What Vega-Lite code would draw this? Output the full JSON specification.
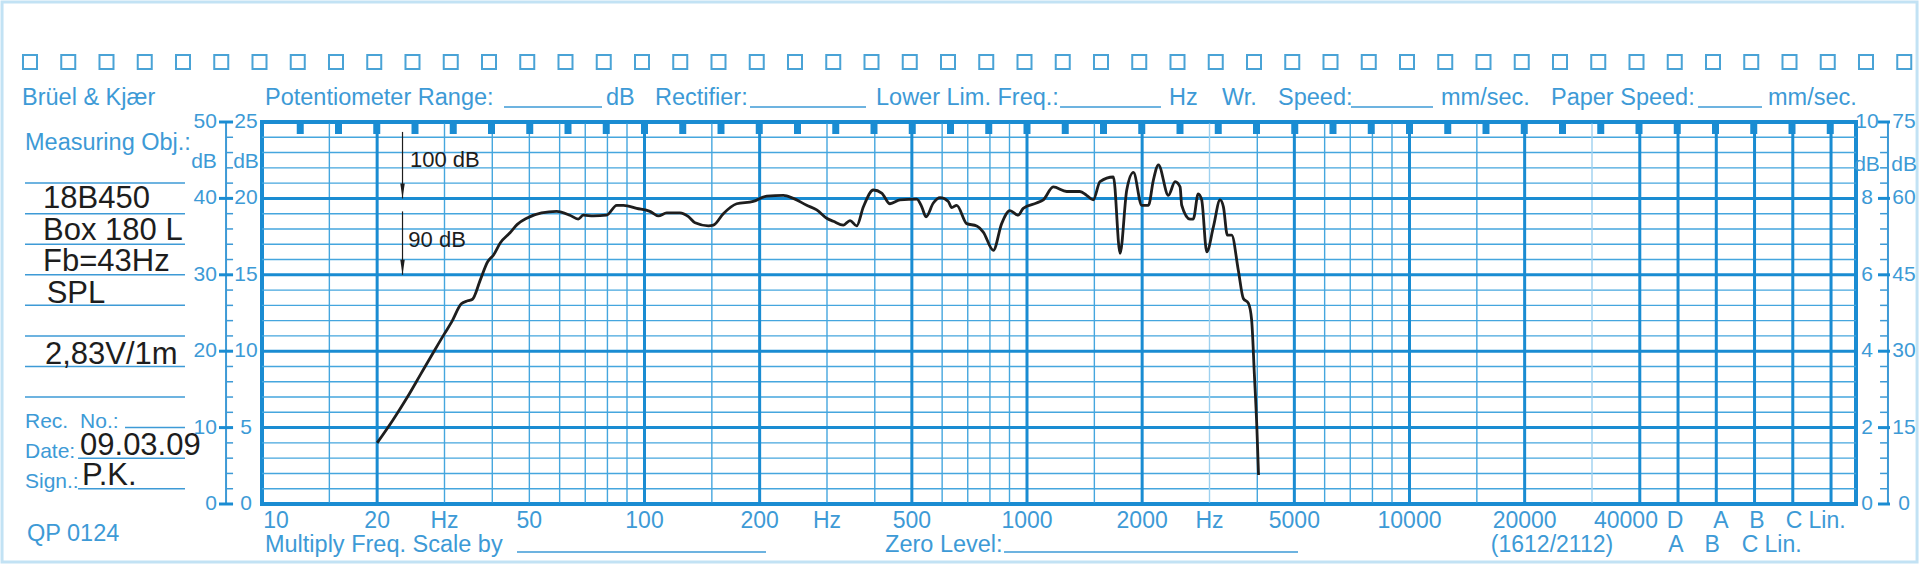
{
  "$schema": "https://vega.github.io/schema/vega-lite/v6.json",
  "width": 1594,
  "height": 382,
  "autosize": {"type": "none"},
  "padding": {"left": 262, "top": 122, "right": 64, "bottom": 60},
  "background": "white",
  "config": {
    "view": {"stroke": "#1a8cd2", "strokeWidth": 4},
    "axis": {"disable": true},
    "text": {"font": "Liberation Sans", "baseline": "middle"}
  },
  "datasets": {
    "curve": [
      {"f": 20, "spl": 68.0}, {"f": 22, "spl": 71.0}, {"f": 24, "spl": 74.0}, {"f": 26, "spl": 77.0},
      {"f": 28.1, "spl": 79.9}, {"f": 30, "spl": 82.3}, {"f": 31.3, "spl": 83.8}, {"f": 33.2, "spl": 86.2},
      {"f": 34.5, "spl": 86.6}, {"f": 35.5, "spl": 86.8}, {"f": 37.2, "spl": 89.3}, {"f": 38.9, "spl": 91.7},
      {"f": 40.3, "spl": 92.6}, {"f": 42, "spl": 94.2}, {"f": 44.5, "spl": 95.5}, {"f": 46.5, "spl": 96.6},
      {"f": 49.2, "spl": 97.4}, {"f": 53.8, "spl": 98.1}, {"f": 58.9, "spl": 98.3}, {"f": 63.8, "spl": 97.8},
      {"f": 67.1, "spl": 97.3}, {"f": 69.2, "spl": 97.8}, {"f": 73.5, "spl": 97.7}, {"f": 79.6, "spl": 97.8},
      {"f": 84.6, "spl": 99.1}, {"f": 88.1, "spl": 99.1}, {"f": 95.4, "spl": 98.7}, {"f": 103.3, "spl": 98.3},
      {"f": 108.7, "spl": 97.7}, {"f": 114.3, "spl": 98.1}, {"f": 123.8, "spl": 98.1}, {"f": 130.3, "spl": 97.6},
      {"f": 135.6, "spl": 96.8}, {"f": 146.9, "spl": 96.4}, {"f": 151.4, "spl": 96.5}, {"f": 160.7, "spl": 98.0},
      {"f": 174.2, "spl": 99.3}, {"f": 192.4, "spl": 99.6}, {"f": 208.7, "spl": 100.3}, {"f": 230.7, "spl": 100.4},
      {"f": 245, "spl": 100.0}, {"f": 265.5, "spl": 99.1}, {"f": 282, "spl": 98.5}, {"f": 299.5, "spl": 97.4},
      {"f": 311.8, "spl": 97.0}, {"f": 331, "spl": 96.5}, {"f": 344.6, "spl": 97.1}, {"f": 358.6, "spl": 96.4},
      {"f": 373.5, "spl": 98.9}, {"f": 396.6, "spl": 101.1}, {"f": 417, "spl": 100.7}, {"f": 438.3, "spl": 99.3},
      {"f": 465.6, "spl": 99.8}, {"f": 515, "spl": 99.9}, {"f": 530.7, "spl": 98.9}, {"f": 544.5, "spl": 97.6},
      {"f": 569, "spl": 99.4}, {"f": 592.5, "spl": 100.1}, {"f": 622.6, "spl": 99.6}, {"f": 635.6, "spl": 98.8},
      {"f": 655, "spl": 99.1}, {"f": 695.6, "spl": 96.7}, {"f": 738.5, "spl": 96.4}, {"f": 768.5, "spl": 95.6},
      {"f": 816.6, "spl": 93.2}, {"f": 858.5, "spl": 96.7}, {"f": 902, "spl": 98.4}, {"f": 948, "spl": 97.8},
      {"f": 977.5, "spl": 98.7}, {"f": 1059, "spl": 99.4}, {"f": 1103, "spl": 99.8}, {"f": 1171, "spl": 101.5},
      {"f": 1270, "spl": 100.9}, {"f": 1375, "spl": 100.9}, {"f": 1432, "spl": 100.4}, {"f": 1490, "spl": 99.8},
      {"f": 1552, "spl": 102.2}, {"f": 1682, "spl": 102.8}, {"f": 1751, "spl": 92.8}, {"f": 1823, "spl": 101.1},
      {"f": 1898, "spl": 103.4}, {"f": 1995, "spl": 99.1}, {"f": 2077, "spl": 99.1}, {"f": 2140, "spl": 102.4},
      {"f": 2206, "spl": 104.4}, {"f": 2342, "spl": 100.4}, {"f": 2439, "spl": 102.2}, {"f": 2513, "spl": 101.5},
      {"f": 2538, "spl": 99.1}, {"f": 2667, "spl": 97.3}, {"f": 2721, "spl": 97.3}, {"f": 2803, "spl": 100.6},
      {"f": 2862, "spl": 99.8}, {"f": 2951, "spl": 93.0}, {"f": 3072, "spl": 96.3}, {"f": 3197, "spl": 99.8},
      {"f": 3262, "spl": 98.9}, {"f": 3340, "spl": 95.2}, {"f": 3428, "spl": 95.2}, {"f": 3568, "spl": 90.6},
      {"f": 3678, "spl": 86.9}, {"f": 3790, "spl": 86.3}, {"f": 3866, "spl": 84.1}, {"f": 3930, "spl": 77.0},
      {"f": 3990, "spl": 70.0}, {"f": 4030, "spl": 63.8}
    ],
    "levels": [
      {"spl": 60, "kind": "major"}, {"spl": 62, "kind": "minor"}, {"spl": 64, "kind": "minor"}, {"spl": 66, "kind": "minor"},
      {"spl": 68, "kind": "minor"}, {"spl": 70, "kind": "major"}, {"spl": 72, "kind": "minor"}, {"spl": 74, "kind": "minor"},
      {"spl": 76, "kind": "minor"}, {"spl": 78, "kind": "minor"}, {"spl": 80, "kind": "major"}, {"spl": 82, "kind": "minor"},
      {"spl": 84, "kind": "minor"}, {"spl": 86, "kind": "minor"}, {"spl": 88, "kind": "minor"}, {"spl": 90, "kind": "major"},
      {"spl": 92, "kind": "minor"}, {"spl": 94, "kind": "minor"}, {"spl": 96, "kind": "minor"}, {"spl": 98, "kind": "minor"},
      {"spl": 100, "kind": "major"}, {"spl": 102, "kind": "minor"}, {"spl": 104, "kind": "minor"}, {"spl": 106, "kind": "minor"},
      {"spl": 108, "kind": "minor"}, {"spl": 110, "kind": "major"}
    ],
    "vlines": [
      {"f": 20, "kind": "major"}, {"f": 100, "kind": "major"}, {"f": 200, "kind": "major"}, {"f": 500, "kind": "major"},
      {"f": 1000, "kind": "major"}, {"f": 2000, "kind": "major"}, {"f": 5000, "kind": "major"}, {"f": 10000, "kind": "major"},
      {"f": 20000, "kind": "major"}, {"f": 40000, "kind": "major"}, {"f": 50357, "kind": "major"}, {"f": 63396, "kind": "major"},
      {"f": 79810, "kind": "major"}, {"f": 100475, "kind": "major"}, {"f": 126491, "kind": "major"},
      {"f": 15, "kind": "minor"}, {"f": 30, "kind": "minor"}, {"f": 40, "kind": "minor"}, {"f": 50, "kind": "minor"},
      {"f": 60, "kind": "minor"}, {"f": 70, "kind": "minor"}, {"f": 80, "kind": "minor"}, {"f": 90, "kind": "minor"},
      {"f": 150, "kind": "minor"}, {"f": 300, "kind": "minor"}, {"f": 400, "kind": "minor"}, {"f": 600, "kind": "minor"},
      {"f": 700, "kind": "minor"}, {"f": 800, "kind": "minor"}, {"f": 900, "kind": "minor"}, {"f": 1500, "kind": "minor"},
      {"f": 4000, "kind": "minor"}, {"f": 6000, "kind": "minor"}, {"f": 7000, "kind": "minor"}, {"f": 8000, "kind": "minor"},
      {"f": 9000, "kind": "minor"}, {"f": 15000, "kind": "minor"},
      {"f": 3000, "kind": "light"}, {"f": 30000, "kind": "light"}
    ],
    "blocks": [
      {"f": 12.589}, {"f": 15.849}, {"f": 19.953}, {"f": 25.119}, {"f": 31.623}, {"f": 39.811}, {"f": 50.119},
      {"f": 63.096}, {"f": 79.433}, {"f": 100}, {"f": 125.89}, {"f": 158.49}, {"f": 199.53}, {"f": 251.19},
      {"f": 316.23}, {"f": 398.11}, {"f": 501.19}, {"f": 630.96}, {"f": 794.33}, {"f": 1000}, {"f": 1258.9},
      {"f": 1584.9}, {"f": 1995.3}, {"f": 2511.9}, {"f": 3162.3}, {"f": 3981.1}, {"f": 5011.9}, {"f": 6309.6},
      {"f": 7943.3}, {"f": 10000}, {"f": 12589}, {"f": 15849}, {"f": 19953}, {"f": 25119}, {"f": 31623},
      {"f": 39811}, {"f": 50119}, {"f": 63096}, {"f": 79433}, {"f": 100000}, {"f": 125893}
    ],
    "sprockets": [
      {"f": 2.4743}, {"f": 3.115}, {"f": 3.9216}, {"f": 4.937}, {"f": 6.2153}, {"f": 7.8246}, {"f": 9.8506},
      {"f": 12.401}, {"f": 15.612}, {"f": 19.654}, {"f": 24.743}, {"f": 31.15}, {"f": 39.216}, {"f": 49.37},
      {"f": 62.153}, {"f": 78.246}, {"f": 98.506}, {"f": 124.01}, {"f": 156.12}, {"f": 196.54}, {"f": 247.43},
      {"f": 311.5}, {"f": 392.16}, {"f": 493.7}, {"f": 621.53}, {"f": 782.46}, {"f": 985.06}, {"f": 1240.1},
      {"f": 1561.2}, {"f": 1965.4}, {"f": 2474.3}, {"f": 3115}, {"f": 3921.6}, {"f": 4937}, {"f": 6215.3},
      {"f": 7824.6}, {"f": 9850.6}, {"f": 12401}, {"f": 15612}, {"f": 19654}, {"f": 24743}, {"f": 31150},
      {"f": 39216}, {"f": 49370}, {"f": 62153}, {"f": 78246}, {"f": 98506}, {"f": 124010}, {"f": 156120},
      {"f": 196540}
    ],
    "underlines": [
      {"f1": 42.92, "f2": 77.43, "spl": 111.96}, {"f1": 188.7, "f2": 379.4, "spl": 111.96},
      {"f1": 1220, "f2": 2240, "spl": 111.96}, {"f1": 7032, "f2": 11522, "spl": 111.96},
      {"f1": 56790, "f2": 83470, "spl": 111.96},
      {"f1": 2.401, "f2": 6.29, "spl": 102}, {"f1": 2.401, "f2": 6.29, "spl": 98},
      {"f1": 2.401, "f2": 6.29, "spl": 94}, {"f1": 2.401, "f2": 6.29, "spl": 90},
      {"f1": 2.401, "f2": 6.29, "spl": 86}, {"f1": 2.401, "f2": 6.29, "spl": 82},
      {"f1": 2.401, "f2": 6.29, "spl": 78}, {"f1": 2.401, "f2": 6.29, "spl": 74},
      {"f1": 4.384, "f2": 6.29, "spl": 70}, {"f1": 3.304, "f2": 6.29, "spl": 66},
      {"f1": 3.304, "f2": 6.29, "spl": 62},
      {"f1": 46.42, "f2": 207.8, "spl": 53.72}, {"f1": 870.9, "f2": 5111, "spl": 53.72}
    ],
    "headerText": [
      {"f": 10.18, "spl": 113.14, "text": "Potentiometer Range:"},
      {"f": 79.32, "spl": 113.14, "text": "dB"},
      {"f": 106.53, "spl": 113.14, "text": "Rectifier:"},
      {"f": 402.9, "spl": 113.14, "text": "Lower Lim. Freq.:"},
      {"f": 2351, "spl": 113.14, "text": "Hz"},
      {"f": 3235, "spl": 113.14, "text": "Wr."},
      {"f": 4531, "spl": 113.14, "text": "Speed:"},
      {"f": 12088, "spl": 113.14, "text": "mm/sec."},
      {"f": 23435, "spl": 113.14, "text": "Paper Speed:"},
      {"f": 86540, "spl": 113.14, "text": "mm/sec."},
      {"f": 2.358, "spl": 113.14, "text": "Brüel & Kjær"},
      {"f": 2.401, "spl": 107.25, "text": "Measuring Obj.:"},
      {"f": 10.18, "spl": 54.63, "text": "Multiply Freq. Scale by"},
      {"f": 425.5, "spl": 54.63, "text": "Zero Level:"},
      {"f": 2.43, "spl": 56.07, "text": "QP 0124"}
    ],
    "panelLabels": [
      {"f": 2.401, "spl": 70.73, "text": "Rec."},
      {"f": 3.344, "spl": 70.73, "text": "No.:"},
      {"f": 2.401, "spl": 66.81, "text": "Date:"},
      {"f": 2.401, "spl": 62.88, "text": "Sign.:"}
    ],
    "freqLabels": [
      {"f": 10.88, "spl": 57.77, "text": "10"}, {"f": 20, "spl": 57.77, "text": "20"},
      {"f": 30, "spl": 57.77, "text": "Hz"}, {"f": 50, "spl": 57.77, "text": "50"},
      {"f": 100, "spl": 57.77, "text": "100"}, {"f": 200, "spl": 57.77, "text": "200"},
      {"f": 300, "spl": 57.77, "text": "Hz"}, {"f": 500, "spl": 57.77, "text": "500"},
      {"f": 1000, "spl": 57.77, "text": "1000"}, {"f": 2000, "spl": 57.77, "text": "2000"},
      {"f": 3000, "spl": 57.77, "text": "Hz"}, {"f": 5000, "spl": 57.77, "text": "5000"},
      {"f": 10000, "spl": 57.77, "text": "10000"}, {"f": 20000, "spl": 57.77, "text": "20000"},
      {"f": 36810, "spl": 57.77, "text": "40000"}, {"f": 49430, "spl": 57.77, "text": "D"},
      {"f": 65190, "spl": 57.77, "text": "A"}, {"f": 81000, "spl": 57.77, "text": "B"},
      {"f": 101200, "spl": 57.77, "text": "C"}, {"f": 123500, "spl": 57.77, "text": "Lin."},
      {"f": 23580, "spl": 54.63, "text": "(1612/2112)"}, {"f": 49730, "spl": 54.63, "text": "A"},
      {"f": 61800, "spl": 54.63, "text": "B"}, {"f": 77650, "spl": 54.63, "text": "C"},
      {"f": 94750, "spl": 54.63, "text": "Lin."}
    ],
    "leftScale": [
      {"spl": 110, "outer": "50", "inner": "25"}, {"spl": 100, "outer": "40", "inner": "20"},
      {"spl": 90, "outer": "30", "inner": "15"}, {"spl": 80, "outer": "20", "inner": "10"},
      {"spl": 70, "outer": "10", "inner": "5"}, {"spl": 60, "outer": "0", "inner": "0"},
      {"spl": 104.76, "outer": "dB", "inner": "dB"}
    ],
    "rightScale": [
      {"spl": 110, "inner": "10", "outer": "75"}, {"spl": 100, "inner": "8", "outer": "60"},
      {"spl": 90, "inner": "6", "outer": "45"}, {"spl": 80, "inner": "4", "outer": "30"},
      {"spl": 70, "inner": "2", "outer": "15"}, {"spl": 60, "inner": "0", "outer": "0"},
      {"spl": 104.4, "inner": "dB", "outer": "dB"}
    ],
    "entries": [
      {"f": 2.676, "spl": 99.92, "text": "18B450"},
      {"f": 2.676, "spl": 95.73, "text": "Box 180 L"},
      {"f": 2.676, "spl": 91.68, "text": "Fb=43Hz"},
      {"f": 2.736, "spl": 87.49, "text": "SPL"},
      {"f": 2.708, "spl": 79.5, "text": "2,83V/1m"},
      {"f": 3.344, "spl": 67.59, "text": "09.03.09"},
      {"f": 3.384, "spl": 63.66, "text": "P.K."}
    ],
    "notes": [
      {"f": 24.38, "spl": 105.0, "text": "100 dB"},
      {"f": 24.13, "spl": 94.55, "text": "90 dB"}
    ],
    "arrows": [
      {"f": 23.3, "top": 108.7, "spl": 100},
      {"f": 23.3, "top": 98.3, "spl": 90}
    ]
  },
  "layer": [
    {
      "data": {"values": [{}]},
      "mark": {"type": "rect", "filled": false, "color": "#c2e2f4", "strokeWidth": 3},
      "encoding": {
        "x": {"datum": 2.091, "type": "quantitative", "scale": {"type": "log", "domain": [10, 147000], "nice": false}},
        "x2": {"datum": 212300},
        "y": {"datum": 125.71, "type": "quantitative", "scale": {"domain": [60, 110], "nice": false, "zero": false}},
        "y2": {"datum": 52.41}
      }
    },
    {
      "data": {"name": "sprockets"},
      "mark": {"type": "point", "shape": "square", "filled": false, "size": 196, "strokeWidth": 2, "color": "#4aa3d6", "opacity": 1},
      "encoding": {
        "x": {"field": "f", "type": "quantitative"},
        "y": {"datum": 117.85, "type": "quantitative"}
      }
    },
    {
      "data": {"name": "levels"},
      "transform": [{"filter": "datum.kind == 'minor'"}],
      "mark": {"type": "rule", "color": "#45a6de", "strokeWidth": 1.4},
      "encoding": {
        "x": {"datum": 10, "type": "quantitative"}, "x2": {"datum": 147000},
        "y": {"field": "spl", "type": "quantitative"}
      }
    },
    {
      "data": {"name": "vlines"},
      "transform": [{"filter": "datum.kind == 'minor'"}],
      "mark": {"type": "rule", "color": "#45a6de", "strokeWidth": 1.4},
      "encoding": {
        "x": {"field": "f", "type": "quantitative"},
        "y": {"datum": 60, "type": "quantitative"}, "y2": {"datum": 110}
      }
    },
    {
      "data": {"name": "vlines"},
      "transform": [{"filter": "datum.kind == 'light'"}],
      "mark": {"type": "rule", "color": "#9dd0ef", "strokeWidth": 1.4},
      "encoding": {
        "x": {"field": "f", "type": "quantitative"},
        "y": {"datum": 60, "type": "quantitative"}, "y2": {"datum": 110}
      }
    },
    {
      "data": {"name": "levels"},
      "transform": [{"filter": "datum.kind == 'major'"}],
      "mark": {"type": "rule", "color": "#1a8cd2", "strokeWidth": 3},
      "encoding": {
        "x": {"datum": 10, "type": "quantitative"}, "x2": {"datum": 147000},
        "y": {"field": "spl", "type": "quantitative"}
      }
    },
    {
      "data": {"name": "vlines"},
      "transform": [{"filter": "datum.kind == 'major'"}],
      "mark": {"type": "rule", "color": "#1a8cd2", "strokeWidth": 3},
      "encoding": {
        "x": {"field": "f", "type": "quantitative"},
        "y": {"datum": 60, "type": "quantitative"}, "y2": {"datum": 110}
      }
    },
    {
      "data": {"name": "blocks"},
      "mark": {"type": "rule", "color": "#1a8cd2", "strokeWidth": 7},
      "encoding": {
        "x": {"field": "f", "type": "quantitative"},
        "y": {"datum": 110, "type": "quantitative"}, "y2": {"datum": 108.43}
      }
    },
    {
      "data": {"values": [{}]},
      "mark": {"type": "rule", "color": "#3d9ad6", "strokeWidth": 2},
      "encoding": {
        "x": {"datum": 8.054, "type": "quantitative"},
        "y": {"datum": 60, "type": "quantitative"}, "y2": {"datum": 110}
      }
    },
    {
      "data": {"values": [{}]},
      "mark": {"type": "rule", "color": "#3d9ad6", "strokeWidth": 2},
      "encoding": {
        "x": {"datum": 178200, "type": "quantitative"},
        "y": {"datum": 60, "type": "quantitative"}, "y2": {"datum": 110}
      }
    },
    {
      "data": {"name": "levels"},
      "transform": [{"filter": "datum.kind == 'minor'"}],
      "mark": {"type": "rule", "color": "#3d9ad6", "strokeWidth": 1.5},
      "encoding": {
        "x": {"datum": 8.054, "type": "quantitative"}, "x2": {"datum": 8.401},
        "y": {"field": "spl", "type": "quantitative"}
      }
    },
    {
      "data": {"name": "levels"},
      "transform": [{"filter": "datum.kind == 'major'"}],
      "mark": {"type": "rule", "color": "#1a8cd2", "strokeWidth": 3},
      "encoding": {
        "x": {"datum": 7.72, "type": "quantitative"}, "x2": {"datum": 8.401},
        "y": {"field": "spl", "type": "quantitative"}
      }
    },
    {
      "data": {"name": "levels"},
      "transform": [{"filter": "datum.kind == 'minor'"}],
      "mark": {"type": "rule", "color": "#3d9ad6", "strokeWidth": 1.5},
      "encoding": {
        "x": {"datum": 169900, "type": "quantitative"}, "x2": {"datum": 178200},
        "y": {"field": "spl", "type": "quantitative"}
      }
    },
    {
      "data": {"name": "levels"},
      "transform": [{"filter": "datum.kind == 'major'"}],
      "mark": {"type": "rule", "color": "#1a8cd2", "strokeWidth": 3},
      "encoding": {
        "x": {"datum": 167800, "type": "quantitative"}, "x2": {"datum": 180400},
        "y": {"field": "spl", "type": "quantitative"}
      }
    },
    {
      "data": {"name": "underlines"},
      "mark": {"type": "rule", "color": "#3d9ad6", "strokeWidth": 1.5},
      "encoding": {
        "x": {"field": "f1", "type": "quantitative"}, "x2": {"field": "f2"},
        "y": {"field": "spl", "type": "quantitative"}
      }
    },
    {
      "data": {"name": "headerText"},
      "mark": {"type": "text", "align": "left", "fontSize": 23.5, "color": "#3d9ad6"},
      "encoding": {
        "x": {"field": "f", "type": "quantitative"},
        "y": {"field": "spl", "type": "quantitative"},
        "text": {"field": "text"}
      }
    },
    {
      "data": {"name": "panelLabels"},
      "mark": {"type": "text", "align": "left", "fontSize": 21, "color": "#3d9ad6"},
      "encoding": {
        "x": {"field": "f", "type": "quantitative"},
        "y": {"field": "spl", "type": "quantitative"},
        "text": {"field": "text"}
      }
    },
    {
      "data": {"name": "freqLabels"},
      "mark": {"type": "text", "align": "center", "fontSize": 23, "color": "#3d9ad6"},
      "encoding": {
        "x": {"field": "f", "type": "quantitative"},
        "y": {"field": "spl", "type": "quantitative"},
        "text": {"field": "text"}
      }
    },
    {
      "data": {"name": "leftScale"},
      "mark": {"type": "text", "align": "right", "fontSize": 21, "color": "#3d9ad6"},
      "encoding": {
        "x": {"datum": 7.62, "type": "quantitative"},
        "y": {"field": "spl", "type": "quantitative"},
        "text": {"field": "outer"}
      }
    },
    {
      "data": {"name": "leftScale"},
      "mark": {"type": "text", "align": "center", "fontSize": 21, "color": "#3d9ad6"},
      "encoding": {
        "x": {"datum": 9.082, "type": "quantitative"},
        "y": {"field": "spl", "type": "quantitative"},
        "text": {"field": "inner"}
      }
    },
    {
      "data": {"name": "rightScale"},
      "mark": {"type": "text", "align": "center", "fontSize": 21, "color": "#3d9ad6"},
      "encoding": {
        "x": {"datum": 157100, "type": "quantitative"},
        "y": {"field": "spl", "type": "quantitative"},
        "text": {"field": "inner"}
      }
    },
    {
      "data": {"name": "rightScale"},
      "mark": {"type": "text", "align": "center", "fontSize": 21, "color": "#3d9ad6"},
      "encoding": {
        "x": {"datum": 196300, "type": "quantitative"},
        "y": {"field": "spl", "type": "quantitative"},
        "text": {"field": "outer"}
      }
    },
    {
      "data": {"name": "entries"},
      "mark": {"type": "text", "align": "left", "fontSize": 31, "color": "#1d1d1d"},
      "encoding": {
        "x": {"field": "f", "type": "quantitative"},
        "y": {"field": "spl", "type": "quantitative"},
        "text": {"field": "text"}
      }
    },
    {
      "data": {"name": "notes"},
      "mark": {"type": "text", "align": "left", "fontSize": 22, "color": "#1d1d1d"},
      "encoding": {
        "x": {"field": "f", "type": "quantitative"},
        "y": {"field": "spl", "type": "quantitative"},
        "text": {"field": "text"}
      }
    },
    {
      "data": {"name": "arrows"},
      "mark": {"type": "rule", "color": "#1d1d1d", "strokeWidth": 1.2},
      "encoding": {
        "x": {"field": "f", "type": "quantitative"},
        "y": {"field": "top", "type": "quantitative"}, "y2": {"field": "spl"}
      }
    },
    {
      "data": {"name": "arrows"},
      "mark": {"type": "point", "shape": "M-0.3,-2L0.3,-2L0,0Z", "filled": true, "size": 225, "color": "#1d1d1d", "opacity": 1},
      "encoding": {
        "x": {"field": "f", "type": "quantitative"},
        "y": {"field": "spl", "type": "quantitative"}
      }
    },
    {
      "data": {"name": "curve"},
      "mark": {"type": "line", "color": "#1e1e1e", "strokeWidth": 2.8, "interpolate": "monotone"},
      "encoding": {
        "x": {"field": "f", "type": "quantitative", "scale": {"type": "log", "domain": [10, 147000], "nice": false}},
        "y": {"field": "spl", "type": "quantitative", "scale": {"domain": [60, 110], "nice": false, "zero": false}}
      }
    }
  ]
}
